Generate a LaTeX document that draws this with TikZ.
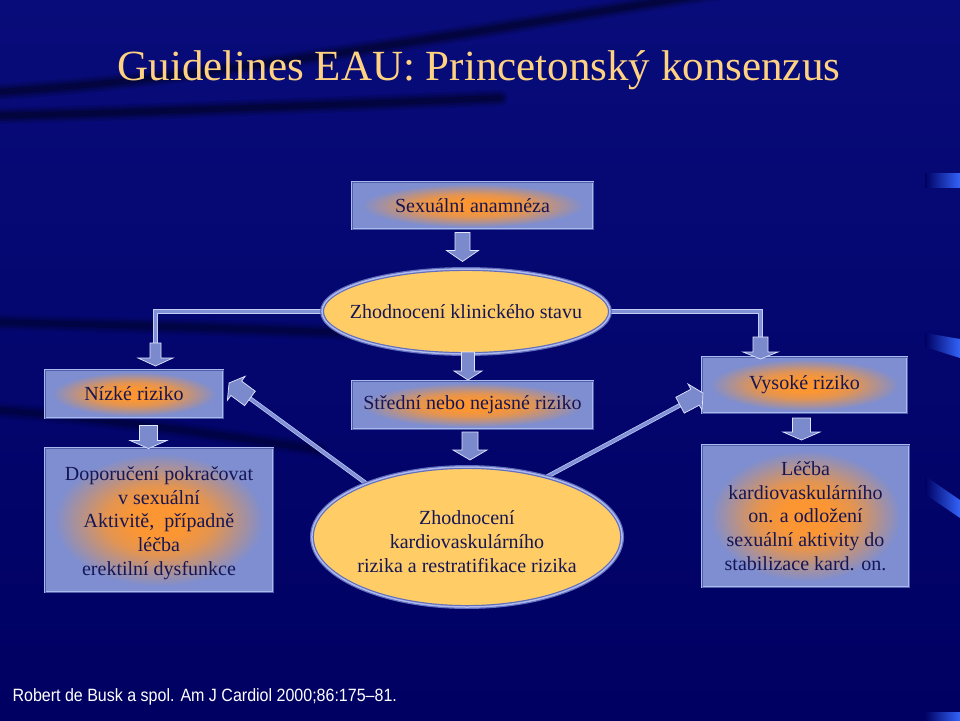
\documentclass[tikz,border=0pt]{standalone}
\usepackage{fontspec}
\setmainfont{Liberation Serif}
\newfontfamily\citefont[FakeStretch=0.9]{Liberation Sans}
\usetikzlibrary{shapes.geometric,calc}
\definecolor{bgtop}{RGB}{8,12,122}
\definecolor{bgbot}{RGB}{0,0,98}
\definecolor{boxblue}{RGB}{126,142,208}
\definecolor{glowc}{RGB}{252,150,50}
\definecolor{boxline}{RGB}{170,185,240}
\definecolor{boxline2}{RGB}{80,95,170}
\definecolor{txt}{RGB}{22,22,85}
\definecolor{ellfill}{RGB}{255,204,102}
\definecolor{ellline}{RGB}{95,110,190}
\definecolor{ellline2}{RGB}{175,185,235}
\definecolor{arrfill}{RGB}{122,138,204}
\definecolor{arrline}{RGB}{225,230,255}
\definecolor{conn}{RGB}{128,145,215}
\definecolor{titlec}{RGB}{255,210,130}
\definecolor{barblue}{RGB}{50,100,250}
\colorlet{glowmid}{glowc!80!boxblue}
\pgfdeclareradialshading{glow}{\pgfpoint{0bp}{0bp}}{color(0bp)=(glowc); color(6bp)=(glowc); color(12bp)=(glowmid); color(23bp)=(boxblue); color(50bp)=(boxblue)}
\pgfdeclarelayer{bg}
\pgfdeclarelayer{conns}
\pgfsetlayers{bg,conns,main}
\tikzset{
  box/.style={rectangle, shade, shading=glow, draw=boxline, double=boxline2, double distance=0.8pt, line width=0.8pt, text=txt, font=\fontsize{20}{23.7}\selectfont, align=center, inner sep=0pt},
  ell/.style={ellipse, fill=ellfill, draw=ellline, double=ellline2, double distance=1.5pt, line width=1.2pt, text=txt, font=\fontsize{20}{24}\selectfont, align=center, inner sep=0pt},
  blockarrow/.style={fill=arrfill, draw=arrline, line width=0.7pt, line join=miter},
  connline/.style={draw=arrline!70!conn, double=conn, double distance=3pt, line width=0.7pt, line join=miter},
  swoosh/.style={black, line cap=round},
}
% push text down by half of #1
\newcommand\pushdown[2]{\raisebox{0pt}[\dimexpr\height+#1\relax][\depth]{#2}}
% name, center, angle, length, head length, shaft half width, head half width
\newcommand\blockarr[7]{%
  \begin{scope}[shift={#2}, rotate=#3]
    \path[blockarrow] ({-#4/2},{-#6}) -- ({#4/2-#5},{-#6}) -- ({#4/2-#5},{-#7}) -- ({#4/2},0) -- ({#4/2-#5},{#7}) -- ({#4/2-#5},{#6}) -- ({-#4/2},{#6}) -- cycle;
    \coordinate (#1-tail) at ({-#4/2},0);
    \coordinate (#1-tip) at ({#4/2},0);
  \end{scope}}
\begin{document}
\begin{tikzpicture}[x=1pt,y=-1pt]
\useasboundingbox (0,0) rectangle (960,720);
\begin{pgfonlayer}{bg}
  \shade[top color=bgtop, bottom color=bgbot] (0,0) rectangle (960,720);
  \foreach \w/\o in {16/.12,11/.18,6/.25}{
    \draw[swoosh, opacity=\o, line width=\w] (-5,92) .. controls (200,80) and (420,40) .. (720,-8);
    \draw[swoosh, opacity=\o, line width=\w] (-5,116) .. controls (150,112) and (300,106) .. (500,98);
    \draw[swoosh, opacity=\o*.8, line width=\w] (-5,322) .. controls (150,326) and (300,330) .. (420,336);
    \draw[swoosh, opacity=\o*.7, line width=\w] (-5,410) .. controls (100,418) and (200,432) .. (320,450);
  }
  \shade[left color=bgbot, right color=barblue] (925,173) rectangle (960,187);
  \shade[left color=bgbot, right color=barblue] (925,333) -- (960,339) -- (960,358) -- (925,347) -- cycle;
  \shade[left color=bgbot, right color=barblue] (925,476) -- (960,500) -- (960,518) -- (925,494) -- cycle;
  \shade[left color=bgbot, right color=barblue] (925,712) rectangle (960,720);
\end{pgfonlayer}

\node[text=titlec, font=\fontsize{43}{50}\selectfont] (title) at (479,70) {Guidelines EAU: Princetonský konsenzus};

\node[box, minimum width=241, minimum height=47] (sex) at (472.5,205.5) {Sexuální anamnéza};
\node[ell, minimum width=288, minimum height=85] (ell1) at (466,311.5) {\makebox[150pt]{Zhodnocení klinického stavu}};
\node[box, minimum width=178, minimum height=48] (low) at (134,394) {Nízké riziko};
\node[box, minimum width=241, minimum height=48] (mid) at (472.5,405) {Střední nebo nejasné riziko};
\node[box, minimum width=205, minimum height=56] (high) at (804.5,385) {Vysoké riziko};
\node[box, minimum width=228, minimum height=144] (rec) at (159,520) {\pushdown{6pt}{\begin{tabular}{@{}c@{}}Doporučení pokračovat\\ v sexuální\\ Aktivitě,\ \ případně\\ léčba\\ erektilní dysfunkce\end{tabular}}};
\node[ell, minimum width=310, minimum height=140] (ell2) at (467,537) {\pushdown{13pt}{\begin{tabular}{@{}c@{}}Zhodnocení\\ kardiovaskulárního\\ rizika a restratifikace rizika\end{tabular}}};
\node[box, minimum width=207, minimum height=142] (treat) at (805.5,516) {Léčba\\ kardiovaskulárního\\ on. a odložení\\ sexuální aktivity do\\ stabilizace kard. on.};

\blockarr{a1}{(462.5,247)}{-90}{29}{11}{7.5}{16}
\blockarr{a2}{(468,366)}{-90}{28}{9}{6.5}{14}
\blockarr{a3}{(470,446)}{-90}{28}{10}{8}{17}
\blockarr{aL}{(155.5,354.5)}{-90}{23}{8}{5.5}{17.5}
\blockarr{a4}{(148.5,437)}{-90}{23}{8}{9}{18.5}
\blockarr{aR}{(760.5,348)}{-90}{22}{7}{7.5}{17.5}
\blockarr{a5}{(801.5,429)}{-90}{22}{8}{9}{18.5}
\blockarr{aLd}{(239.5,390.7)}{143.5}{26}{9}{9}{15}
\blockarr{aRd}{(691.5,399.1)}{28}{26}{9}{9}{15}

\begin{pgfonlayer}{conns}
  \draw[connline] (ell1.west) -| (aL-tail);
  \draw[connline] (ell1.east) -| (aR-tail);
  \draw[connline] (ell2.152) -- (aLd-tail);
  \draw[connline] (ell2.37) -- (aRd-tail);
\end{pgfonlayer}

\node[anchor=west, text=white, font=\citefont\fontsize{17.8}{21}\selectfont] (cite) at (9,697) {Robert de Busk a spol. Am J Cardiol 2000;86:175–81.};
\end{tikzpicture}
\end{document}
